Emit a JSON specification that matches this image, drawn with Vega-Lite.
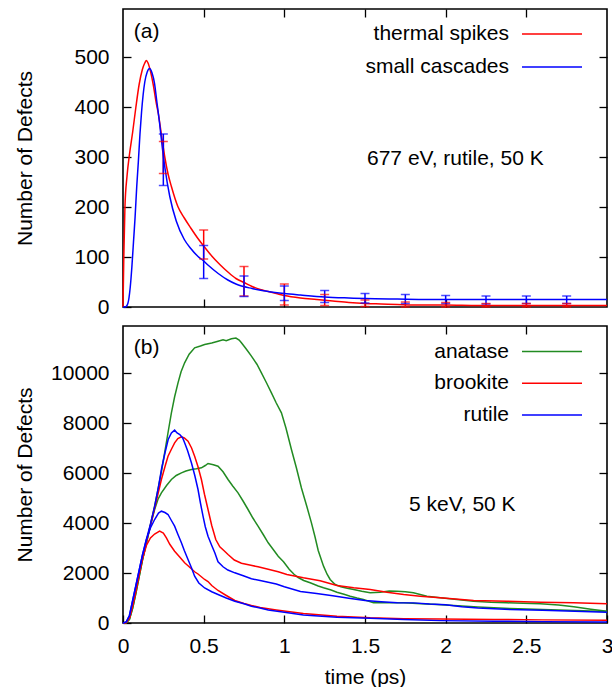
{
  "$schema": "https://vega.github.io/schema/vega-lite/v6.json",
  "autosize": {"type": "pad"},
  "padding": {"left": 13, "top": 7, "right": 0, "bottom": 0},
  "background": "white",
  "spacing": 6,
  "config": {
    "font": "Liberation Sans",
    "view": {"stroke": "black", "strokeWidth": 1.6},
    "axis": {"grid": false, "domain": false, "tickColor": "black", "tickSize": -8, "tickWidth": 1.3, "labelFont": "Liberation Sans", "labelFontSize": 21, "labelColor": "black", "titleFont": "Liberation Sans", "titleFontSize": 21, "titleFontWeight": "normal", "titleColor": "black", "labelFlush": false, "labelOverlap": false},
    "legend": {"labelFont": "Liberation Sans", "labelFontSize": 21, "labelColor": "black"},
    "text": {"font": "Liberation Sans", "fontSize": 21, "color": "black"}
  },
  "datasets": {
    "top": [
      {"series": "thermal spikes", "t": 0, "n": 0},
      {"series": "thermal spikes", "t": 0.005, "n": 100},
      {"series": "thermal spikes", "t": 0.012, "n": 200},
      {"series": "thermal spikes", "t": 0.025, "n": 262},
      {"series": "thermal spikes", "t": 0.04, "n": 305},
      {"series": "thermal spikes", "t": 0.06, "n": 350},
      {"series": "thermal spikes", "t": 0.08, "n": 400},
      {"series": "thermal spikes", "t": 0.1, "n": 445},
      {"series": "thermal spikes", "t": 0.12, "n": 475},
      {"series": "thermal spikes", "t": 0.135, "n": 488},
      {"series": "thermal spikes", "t": 0.145, "n": 493},
      {"series": "thermal spikes", "t": 0.155, "n": 488},
      {"series": "thermal spikes", "t": 0.17, "n": 472},
      {"series": "thermal spikes", "t": 0.19, "n": 440},
      {"series": "thermal spikes", "t": 0.205, "n": 410},
      {"series": "thermal spikes", "t": 0.22, "n": 385},
      {"series": "thermal spikes", "t": 0.24, "n": 340},
      {"series": "thermal spikes", "t": 0.26, "n": 298},
      {"series": "thermal spikes", "t": 0.28, "n": 265},
      {"series": "thermal spikes", "t": 0.3, "n": 241},
      {"series": "thermal spikes", "t": 0.34, "n": 201},
      {"series": "thermal spikes", "t": 0.38, "n": 178},
      {"series": "thermal spikes", "t": 0.42, "n": 158},
      {"series": "thermal spikes", "t": 0.46, "n": 139},
      {"series": "thermal spikes", "t": 0.5, "n": 122},
      {"series": "thermal spikes", "t": 0.55, "n": 102},
      {"series": "thermal spikes", "t": 0.6, "n": 85},
      {"series": "thermal spikes", "t": 0.65, "n": 70},
      {"series": "thermal spikes", "t": 0.7, "n": 57},
      {"series": "thermal spikes", "t": 0.75, "n": 49},
      {"series": "thermal spikes", "t": 0.8, "n": 41},
      {"series": "thermal spikes", "t": 0.85, "n": 35},
      {"series": "thermal spikes", "t": 0.9, "n": 31},
      {"series": "thermal spikes", "t": 0.95, "n": 27},
      {"series": "thermal spikes", "t": 1.0, "n": 23},
      {"series": "thermal spikes", "t": 1.1, "n": 18},
      {"series": "thermal spikes", "t": 1.2, "n": 15},
      {"series": "thermal spikes", "t": 1.3, "n": 12},
      {"series": "thermal spikes", "t": 1.4, "n": 9},
      {"series": "thermal spikes", "t": 1.5, "n": 7},
      {"series": "thermal spikes", "t": 1.6, "n": 6},
      {"series": "thermal spikes", "t": 1.7, "n": 5},
      {"series": "thermal spikes", "t": 1.8, "n": 4},
      {"series": "thermal spikes", "t": 2.0, "n": 4},
      {"series": "thermal spikes", "t": 2.2, "n": 3},
      {"series": "thermal spikes", "t": 2.5, "n": 3},
      {"series": "thermal spikes", "t": 2.8, "n": 3},
      {"series": "thermal spikes", "t": 3.0, "n": 3},
      {"series": "small cascades", "t": 0, "n": 0},
      {"series": "small cascades", "t": 0.015, "n": 0},
      {"series": "small cascades", "t": 0.03, "n": 7},
      {"series": "small cascades", "t": 0.045, "n": 40},
      {"series": "small cascades", "t": 0.055, "n": 80},
      {"series": "small cascades", "t": 0.065, "n": 130},
      {"series": "small cascades", "t": 0.075, "n": 180},
      {"series": "small cascades", "t": 0.085, "n": 240},
      {"series": "small cascades", "t": 0.095, "n": 290},
      {"series": "small cascades", "t": 0.105, "n": 345},
      {"series": "small cascades", "t": 0.115, "n": 390},
      {"series": "small cascades", "t": 0.125, "n": 425},
      {"series": "small cascades", "t": 0.135, "n": 450},
      {"series": "small cascades", "t": 0.15, "n": 470},
      {"series": "small cascades", "t": 0.165, "n": 477},
      {"series": "small cascades", "t": 0.18, "n": 468},
      {"series": "small cascades", "t": 0.195, "n": 448},
      {"series": "small cascades", "t": 0.21, "n": 410},
      {"series": "small cascades", "t": 0.227, "n": 367},
      {"series": "small cascades", "t": 0.245, "n": 315},
      {"series": "small cascades", "t": 0.26, "n": 278},
      {"series": "small cascades", "t": 0.29, "n": 221},
      {"series": "small cascades", "t": 0.33, "n": 172},
      {"series": "small cascades", "t": 0.38, "n": 135},
      {"series": "small cascades", "t": 0.42, "n": 117},
      {"series": "small cascades", "t": 0.465, "n": 101},
      {"series": "small cascades", "t": 0.5, "n": 92},
      {"series": "small cascades", "t": 0.53, "n": 83},
      {"series": "small cascades", "t": 0.59, "n": 67},
      {"series": "small cascades", "t": 0.65, "n": 54},
      {"series": "small cascades", "t": 0.7, "n": 46},
      {"series": "small cascades", "t": 0.8, "n": 37},
      {"series": "small cascades", "t": 0.9, "n": 31},
      {"series": "small cascades", "t": 1.0, "n": 27},
      {"series": "small cascades", "t": 1.1, "n": 24},
      {"series": "small cascades", "t": 1.25, "n": 20},
      {"series": "small cascades", "t": 1.4, "n": 18},
      {"series": "small cascades", "t": 1.5, "n": 17},
      {"series": "small cascades", "t": 1.7, "n": 16},
      {"series": "small cascades", "t": 2.0, "n": 15},
      {"series": "small cascades", "t": 2.5, "n": 15},
      {"series": "small cascades", "t": 3.0, "n": 15}
    ],
    "bars": [
      {"series": "thermal spikes", "t": 0.25, "lo": 267, "hi": 331},
      {"series": "thermal spikes", "t": 0.5, "lo": 96, "hi": 154},
      {"series": "thermal spikes", "t": 0.75, "lo": 22, "hi": 81},
      {"series": "thermal spikes", "t": 1.0, "lo": 4, "hi": 46},
      {"series": "thermal spikes", "t": 1.25, "lo": 3, "hi": 25},
      {"series": "thermal spikes", "t": 1.5, "lo": 1, "hi": 14},
      {"series": "thermal spikes", "t": 1.75, "lo": 0, "hi": 10},
      {"series": "thermal spikes", "t": 2.0, "lo": 0, "hi": 9},
      {"series": "thermal spikes", "t": 2.25, "lo": 0, "hi": 7},
      {"series": "thermal spikes", "t": 2.5, "lo": 0, "hi": 7},
      {"series": "thermal spikes", "t": 2.75, "lo": 0, "hi": 7},
      {"series": "small cascades", "t": 0.25, "lo": 243, "hi": 346},
      {"series": "small cascades", "t": 0.5, "lo": 57, "hi": 123},
      {"series": "small cascades", "t": 0.75, "lo": 21, "hi": 62},
      {"series": "small cascades", "t": 1.0, "lo": 13, "hi": 42},
      {"series": "small cascades", "t": 1.25, "lo": 9, "hi": 33},
      {"series": "small cascades", "t": 1.5, "lo": 8, "hi": 27},
      {"series": "small cascades", "t": 1.75, "lo": 7, "hi": 25},
      {"series": "small cascades", "t": 2.0, "lo": 7, "hi": 23},
      {"series": "small cascades", "t": 2.25, "lo": 6, "hi": 22},
      {"series": "small cascades", "t": 2.5, "lo": 7, "hi": 22},
      {"series": "small cascades", "t": 2.75, "lo": 7, "hi": 22}
    ],
    "bottom": [
      {"series": "anatase", "run": "a1", "t": 0, "n": 0},
      {"series": "anatase", "run": "a1", "t": 0.02, "n": 10},
      {"series": "anatase", "run": "a1", "t": 0.04, "n": 150},
      {"series": "anatase", "run": "a1", "t": 0.06, "n": 600},
      {"series": "anatase", "run": "a1", "t": 0.08, "n": 1200},
      {"series": "anatase", "run": "a1", "t": 0.1, "n": 1850},
      {"series": "anatase", "run": "a1", "t": 0.12, "n": 2500},
      {"series": "anatase", "run": "a1", "t": 0.145, "n": 3200},
      {"series": "anatase", "run": "a1", "t": 0.176, "n": 4100},
      {"series": "anatase", "run": "a1", "t": 0.2, "n": 4800},
      {"series": "anatase", "run": "a1", "t": 0.217, "n": 5340},
      {"series": "anatase", "run": "a1", "t": 0.238, "n": 6050},
      {"series": "anatase", "run": "a1", "t": 0.258, "n": 6807},
      {"series": "anatase", "run": "a1", "t": 0.28, "n": 7650},
      {"series": "anatase", "run": "a1", "t": 0.3, "n": 8407},
      {"series": "anatase", "run": "a1", "t": 0.32, "n": 9050},
      {"series": "anatase", "run": "a1", "t": 0.341, "n": 9607},
      {"series": "anatase", "run": "a1", "t": 0.36, "n": 10050},
      {"series": "anatase", "run": "a1", "t": 0.382, "n": 10407},
      {"series": "anatase", "run": "a1", "t": 0.41, "n": 10750},
      {"series": "anatase", "run": "a1", "t": 0.444, "n": 11007},
      {"series": "anatase", "run": "a1", "t": 0.48, "n": 11080},
      {"series": "anatase", "run": "a1", "t": 0.506, "n": 11140},
      {"series": "anatase", "run": "a1", "t": 0.55, "n": 11200},
      {"series": "anatase", "run": "a1", "t": 0.589, "n": 11273},
      {"series": "anatase", "run": "a1", "t": 0.62, "n": 11330},
      {"series": "anatase", "run": "a1", "t": 0.64, "n": 11290},
      {"series": "anatase", "run": "a1", "t": 0.672, "n": 11367},
      {"series": "anatase", "run": "a1", "t": 0.7, "n": 11400},
      {"series": "anatase", "run": "a1", "t": 0.72, "n": 11320},
      {"series": "anatase", "run": "a1", "t": 0.734, "n": 11207},
      {"series": "anatase", "run": "a1", "t": 0.765, "n": 10950},
      {"series": "anatase", "run": "a1", "t": 0.796, "n": 10673},
      {"series": "anatase", "run": "a1", "t": 0.83, "n": 10350},
      {"series": "anatase", "run": "a1", "t": 0.858, "n": 10007},
      {"series": "anatase", "run": "a1", "t": 0.89, "n": 9600},
      {"series": "anatase", "run": "a1", "t": 0.92, "n": 9207},
      {"series": "anatase", "run": "a1", "t": 0.95, "n": 8800},
      {"series": "anatase", "run": "a1", "t": 0.982, "n": 8407},
      {"series": "anatase", "run": "a1", "t": 1.01, "n": 7800},
      {"series": "anatase", "run": "a1", "t": 1.044, "n": 6940},
      {"series": "anatase", "run": "a1", "t": 1.075, "n": 6200},
      {"series": "anatase", "run": "a1", "t": 1.106, "n": 5400},
      {"series": "anatase", "run": "a1", "t": 1.14, "n": 4650},
      {"series": "anatase", "run": "a1", "t": 1.168, "n": 4007},
      {"series": "anatase", "run": "a1", "t": 1.19, "n": 3450},
      {"series": "anatase", "run": "a1", "t": 1.21, "n": 2900},
      {"series": "anatase", "run": "a1", "t": 1.243, "n": 2273},
      {"series": "anatase", "run": "a1", "t": 1.265, "n": 1950},
      {"series": "anatase", "run": "a1", "t": 1.284, "n": 1740},
      {"series": "anatase", "run": "a1", "t": 1.315, "n": 1540},
      {"series": "anatase", "run": "a1", "t": 1.35, "n": 1450},
      {"series": "anatase", "run": "a1", "t": 1.39, "n": 1390},
      {"series": "anatase", "run": "a1", "t": 1.43, "n": 1340},
      {"series": "anatase", "run": "a1", "t": 1.48, "n": 1270},
      {"series": "anatase", "run": "a1", "t": 1.532, "n": 1207},
      {"series": "anatase", "run": "a1", "t": 1.594, "n": 1233},
      {"series": "anatase", "run": "a1", "t": 1.65, "n": 1280},
      {"series": "anatase", "run": "a1", "t": 1.698, "n": 1273},
      {"series": "anatase", "run": "a1", "t": 1.75, "n": 1250},
      {"series": "anatase", "run": "a1", "t": 1.8, "n": 1207},
      {"series": "anatase", "run": "a1", "t": 1.884, "n": 1073},
      {"series": "anatase", "run": "a1", "t": 1.966, "n": 1007},
      {"series": "anatase", "run": "a1", "t": 2.07, "n": 940},
      {"series": "anatase", "run": "a1", "t": 2.173, "n": 873},
      {"series": "anatase", "run": "a1", "t": 2.28, "n": 830},
      {"series": "anatase", "run": "a1", "t": 2.38, "n": 807},
      {"series": "anatase", "run": "a1", "t": 2.48, "n": 790},
      {"series": "anatase", "run": "a1", "t": 2.587, "n": 767},
      {"series": "anatase", "run": "a1", "t": 2.7, "n": 720},
      {"series": "anatase", "run": "a1", "t": 2.794, "n": 647},
      {"series": "anatase", "run": "a1", "t": 2.9, "n": 550},
      {"series": "anatase", "run": "a1", "t": 3.0, "n": 473},
      {"series": "anatase", "run": "a2", "t": 0, "n": 0},
      {"series": "anatase", "run": "a2", "t": 0.02, "n": 10},
      {"series": "anatase", "run": "a2", "t": 0.04, "n": 150},
      {"series": "anatase", "run": "a2", "t": 0.06, "n": 600},
      {"series": "anatase", "run": "a2", "t": 0.08, "n": 1200},
      {"series": "anatase", "run": "a2", "t": 0.1, "n": 1850},
      {"series": "anatase", "run": "a2", "t": 0.12, "n": 2500},
      {"series": "anatase", "run": "a2", "t": 0.145, "n": 3200},
      {"series": "anatase", "run": "a2", "t": 0.17, "n": 3900},
      {"series": "anatase", "run": "a2", "t": 0.196, "n": 4540},
      {"series": "anatase", "run": "a2", "t": 0.217, "n": 4950},
      {"series": "anatase", "run": "a2", "t": 0.238, "n": 5207},
      {"series": "anatase", "run": "a2", "t": 0.27, "n": 5500},
      {"series": "anatase", "run": "a2", "t": 0.3, "n": 5740},
      {"series": "anatase", "run": "a2", "t": 0.33, "n": 5900},
      {"series": "anatase", "run": "a2", "t": 0.362, "n": 6007},
      {"series": "anatase", "run": "a2", "t": 0.39, "n": 6080},
      {"series": "anatase", "run": "a2", "t": 0.424, "n": 6140},
      {"series": "anatase", "run": "a2", "t": 0.455, "n": 6170},
      {"series": "anatase", "run": "a2", "t": 0.486, "n": 6207},
      {"series": "anatase", "run": "a2", "t": 0.51, "n": 6300},
      {"series": "anatase", "run": "a2", "t": 0.527, "n": 6380},
      {"series": "anatase", "run": "a2", "t": 0.56, "n": 6330},
      {"series": "anatase", "run": "a2", "t": 0.589, "n": 6273},
      {"series": "anatase", "run": "a2", "t": 0.62, "n": 6050},
      {"series": "anatase", "run": "a2", "t": 0.651, "n": 5740},
      {"series": "anatase", "run": "a2", "t": 0.68, "n": 5480},
      {"series": "anatase", "run": "a2", "t": 0.713, "n": 5207},
      {"series": "anatase", "run": "a2", "t": 0.745, "n": 4870},
      {"series": "anatase", "run": "a2", "t": 0.775, "n": 4540},
      {"series": "anatase", "run": "a2", "t": 0.805, "n": 4200},
      {"series": "anatase", "run": "a2", "t": 0.837, "n": 3873},
      {"series": "anatase", "run": "a2", "t": 0.87, "n": 3530},
      {"series": "anatase", "run": "a2", "t": 0.9, "n": 3207},
      {"series": "anatase", "run": "a2", "t": 0.93, "n": 2950},
      {"series": "anatase", "run": "a2", "t": 0.962, "n": 2673},
      {"series": "anatase", "run": "a2", "t": 0.995, "n": 2450},
      {"series": "anatase", "run": "a2", "t": 1.03, "n": 2150},
      {"series": "anatase", "run": "a2", "t": 1.06, "n": 1950},
      {"series": "anatase", "run": "a2", "t": 1.086, "n": 1820},
      {"series": "anatase", "run": "a2", "t": 1.12, "n": 1700},
      {"series": "anatase", "run": "a2", "t": 1.16, "n": 1607},
      {"series": "anatase", "run": "a2", "t": 1.21, "n": 1480},
      {"series": "anatase", "run": "a2", "t": 1.243, "n": 1407},
      {"series": "anatase", "run": "a2", "t": 1.29, "n": 1320},
      {"series": "anatase", "run": "a2", "t": 1.326, "n": 1233},
      {"series": "anatase", "run": "a2", "t": 1.37, "n": 1150},
      {"series": "anatase", "run": "a2", "t": 1.408, "n": 1073},
      {"series": "anatase", "run": "a2", "t": 1.45, "n": 1000},
      {"series": "anatase", "run": "a2", "t": 1.49, "n": 940},
      {"series": "anatase", "run": "a2", "t": 1.553, "n": 807},
      {"series": "anatase", "run": "a2", "t": 1.636, "n": 807},
      {"series": "anatase", "run": "a2", "t": 1.74, "n": 807},
      {"series": "anatase", "run": "a2", "t": 1.85, "n": 770},
      {"series": "anatase", "run": "a2", "t": 1.946, "n": 740},
      {"series": "anatase", "run": "a2", "t": 2.05, "n": 700},
      {"series": "anatase", "run": "a2", "t": 2.2, "n": 640},
      {"series": "anatase", "run": "a2", "t": 2.4, "n": 580},
      {"series": "anatase", "run": "a2", "t": 2.6, "n": 540},
      {"series": "anatase", "run": "a2", "t": 2.8, "n": 500},
      {"series": "anatase", "run": "a2", "t": 3.0, "n": 460},
      {"series": "brookite", "run": "b1", "t": 0, "n": 0},
      {"series": "brookite", "run": "b1", "t": 0.02, "n": 20},
      {"series": "brookite", "run": "b1", "t": 0.04, "n": 200},
      {"series": "brookite", "run": "b1", "t": 0.06, "n": 700},
      {"series": "brookite", "run": "b1", "t": 0.08, "n": 1300},
      {"series": "brookite", "run": "b1", "t": 0.1, "n": 1950},
      {"series": "brookite", "run": "b1", "t": 0.12, "n": 2600},
      {"series": "brookite", "run": "b1", "t": 0.145, "n": 3250},
      {"series": "brookite", "run": "b1", "t": 0.17, "n": 3900},
      {"series": "brookite", "run": "b1", "t": 0.196, "n": 4600},
      {"series": "brookite", "run": "b1", "t": 0.22, "n": 5250},
      {"series": "brookite", "run": "b1", "t": 0.238, "n": 5740},
      {"series": "brookite", "run": "b1", "t": 0.26, "n": 6250},
      {"series": "brookite", "run": "b1", "t": 0.279, "n": 6673},
      {"series": "brookite", "run": "b1", "t": 0.3, "n": 6950},
      {"series": "brookite", "run": "b1", "t": 0.32, "n": 7207},
      {"series": "brookite", "run": "b1", "t": 0.34, "n": 7380},
      {"series": "brookite", "run": "b1", "t": 0.362, "n": 7447},
      {"series": "brookite", "run": "b1", "t": 0.38, "n": 7400},
      {"series": "brookite", "run": "b1", "t": 0.403, "n": 7273},
      {"series": "brookite", "run": "b1", "t": 0.425, "n": 7000},
      {"series": "brookite", "run": "b1", "t": 0.444, "n": 6673},
      {"series": "brookite", "run": "b1", "t": 0.465, "n": 6250},
      {"series": "brookite", "run": "b1", "t": 0.486, "n": 5740},
      {"series": "brookite", "run": "b1", "t": 0.505, "n": 5150},
      {"series": "brookite", "run": "b1", "t": 0.527, "n": 4540},
      {"series": "brookite", "run": "b1", "t": 0.55, "n": 3900},
      {"series": "brookite", "run": "b1", "t": 0.575, "n": 3340},
      {"series": "brookite", "run": "b1", "t": 0.6, "n": 3050},
      {"series": "brookite", "run": "b1", "t": 0.625, "n": 2900},
      {"series": "brookite", "run": "b1", "t": 0.651, "n": 2740},
      {"series": "brookite", "run": "b1", "t": 0.69, "n": 2520},
      {"series": "brookite", "run": "b1", "t": 0.734, "n": 2390},
      {"series": "brookite", "run": "b1", "t": 0.8, "n": 2300},
      {"series": "brookite", "run": "b1", "t": 0.837, "n": 2247},
      {"series": "brookite", "run": "b1", "t": 0.9, "n": 2150},
      {"series": "brookite", "run": "b1", "t": 0.962, "n": 2047},
      {"series": "brookite", "run": "b1", "t": 1.016, "n": 1940},
      {"series": "brookite", "run": "b1", "t": 1.118, "n": 1807},
      {"series": "brookite", "run": "b1", "t": 1.222, "n": 1690},
      {"series": "brookite", "run": "b1", "t": 1.326, "n": 1500},
      {"series": "brookite", "run": "b1", "t": 1.43, "n": 1407},
      {"series": "brookite", "run": "b1", "t": 1.532, "n": 1340},
      {"series": "brookite", "run": "b1", "t": 1.636, "n": 1233},
      {"series": "brookite", "run": "b1", "t": 1.74, "n": 1140},
      {"series": "brookite", "run": "b1", "t": 1.842, "n": 1073},
      {"series": "brookite", "run": "b1", "t": 1.966, "n": 1007},
      {"series": "brookite", "run": "b1", "t": 2.173, "n": 900},
      {"series": "brookite", "run": "b1", "t": 2.38, "n": 873},
      {"series": "brookite", "run": "b1", "t": 2.587, "n": 833},
      {"series": "brookite", "run": "b1", "t": 2.794, "n": 807},
      {"series": "brookite", "run": "b1", "t": 3.0, "n": 767},
      {"series": "brookite", "run": "b2", "t": 0, "n": 0},
      {"series": "brookite", "run": "b2", "t": 0.02, "n": 20},
      {"series": "brookite", "run": "b2", "t": 0.04, "n": 200},
      {"series": "brookite", "run": "b2", "t": 0.06, "n": 700},
      {"series": "brookite", "run": "b2", "t": 0.08, "n": 1300},
      {"series": "brookite", "run": "b2", "t": 0.1, "n": 1950},
      {"series": "brookite", "run": "b2", "t": 0.12, "n": 2550},
      {"series": "brookite", "run": "b2", "t": 0.145, "n": 3100},
      {"series": "brookite", "run": "b2", "t": 0.17, "n": 3400},
      {"series": "brookite", "run": "b2", "t": 0.196, "n": 3560},
      {"series": "brookite", "run": "b2", "t": 0.227, "n": 3673},
      {"series": "brookite", "run": "b2", "t": 0.25, "n": 3600},
      {"series": "brookite", "run": "b2", "t": 0.269, "n": 3407},
      {"series": "brookite", "run": "b2", "t": 0.29, "n": 3150},
      {"series": "brookite", "run": "b2", "t": 0.32, "n": 2873},
      {"series": "brookite", "run": "b2", "t": 0.35, "n": 2650},
      {"series": "brookite", "run": "b2", "t": 0.382, "n": 2407},
      {"series": "brookite", "run": "b2", "t": 0.41, "n": 2250},
      {"series": "brookite", "run": "b2", "t": 0.444, "n": 2050},
      {"series": "brookite", "run": "b2", "t": 0.465, "n": 1960},
      {"series": "brookite", "run": "b2", "t": 0.506, "n": 1740},
      {"series": "brookite", "run": "b2", "t": 0.527, "n": 1660},
      {"series": "brookite", "run": "b2", "t": 0.55, "n": 1500},
      {"series": "brookite", "run": "b2", "t": 0.589, "n": 1300},
      {"series": "brookite", "run": "b2", "t": 0.64, "n": 1100},
      {"series": "brookite", "run": "b2", "t": 0.693, "n": 900},
      {"series": "brookite", "run": "b2", "t": 0.75, "n": 780},
      {"series": "brookite", "run": "b2", "t": 0.796, "n": 700},
      {"series": "brookite", "run": "b2", "t": 0.85, "n": 620},
      {"series": "brookite", "run": "b2", "t": 0.9, "n": 567},
      {"series": "brookite", "run": "b2", "t": 0.95, "n": 520},
      {"series": "brookite", "run": "b2", "t": 1.118, "n": 380},
      {"series": "brookite", "run": "b2", "t": 1.326, "n": 273},
      {"series": "brookite", "run": "b2", "t": 1.532, "n": 207},
      {"series": "brookite", "run": "b2", "t": 1.74, "n": 173},
      {"series": "brookite", "run": "b2", "t": 1.966, "n": 160},
      {"series": "brookite", "run": "b2", "t": 2.3, "n": 140},
      {"series": "brookite", "run": "b2", "t": 2.6, "n": 125},
      {"series": "brookite", "run": "b2", "t": 3.0, "n": 113},
      {"series": "rutile", "run": "r1", "t": 0, "n": 0},
      {"series": "rutile", "run": "r1", "t": 0.02, "n": 40},
      {"series": "rutile", "run": "r1", "t": 0.04, "n": 300},
      {"series": "rutile", "run": "r1", "t": 0.06, "n": 900},
      {"series": "rutile", "run": "r1", "t": 0.08, "n": 1500},
      {"series": "rutile", "run": "r1", "t": 0.1, "n": 2100},
      {"series": "rutile", "run": "r1", "t": 0.12, "n": 2700},
      {"series": "rutile", "run": "r1", "t": 0.145, "n": 3340},
      {"series": "rutile", "run": "r1", "t": 0.17, "n": 3950},
      {"series": "rutile", "run": "r1", "t": 0.196, "n": 4650},
      {"series": "rutile", "run": "r1", "t": 0.22, "n": 5450},
      {"series": "rutile", "run": "r1", "t": 0.24, "n": 6200},
      {"series": "rutile", "run": "r1", "t": 0.26, "n": 6800},
      {"series": "rutile", "run": "r1", "t": 0.28, "n": 7340},
      {"series": "rutile", "run": "r1", "t": 0.3, "n": 7600},
      {"series": "rutile", "run": "r1", "t": 0.32, "n": 7713},
      {"series": "rutile", "run": "r1", "t": 0.335, "n": 7600},
      {"series": "rutile", "run": "r1", "t": 0.352, "n": 7540},
      {"series": "rutile", "run": "r1", "t": 0.37, "n": 7400},
      {"series": "rutile", "run": "r1", "t": 0.382, "n": 7207},
      {"series": "rutile", "run": "r1", "t": 0.4, "n": 6900},
      {"series": "rutile", "run": "r1", "t": 0.424, "n": 6407},
      {"series": "rutile", "run": "r1", "t": 0.445, "n": 5900},
      {"series": "rutile", "run": "r1", "t": 0.465, "n": 5340},
      {"series": "rutile", "run": "r1", "t": 0.48, "n": 4800},
      {"series": "rutile", "run": "r1", "t": 0.496, "n": 4273},
      {"series": "rutile", "run": "r1", "t": 0.51, "n": 3850},
      {"series": "rutile", "run": "r1", "t": 0.527, "n": 3473},
      {"series": "rutile", "run": "r1", "t": 0.55, "n": 3100},
      {"series": "rutile", "run": "r1", "t": 0.569, "n": 2807},
      {"series": "rutile", "run": "r1", "t": 0.589, "n": 2450},
      {"series": "rutile", "run": "r1", "t": 0.62, "n": 2250},
      {"series": "rutile", "run": "r1", "t": 0.65, "n": 2120},
      {"series": "rutile", "run": "r1", "t": 0.693, "n": 2007},
      {"series": "rutile", "run": "r1", "t": 0.75, "n": 1880},
      {"series": "rutile", "run": "r1", "t": 0.796, "n": 1767},
      {"series": "rutile", "run": "r1", "t": 0.85, "n": 1700},
      {"series": "rutile", "run": "r1", "t": 0.9, "n": 1633},
      {"series": "rutile", "run": "r1", "t": 0.95, "n": 1560},
      {"series": "rutile", "run": "r1", "t": 1.0, "n": 1450},
      {"series": "rutile", "run": "r1", "t": 1.1, "n": 1260},
      {"series": "rutile", "run": "r1", "t": 1.2, "n": 1180},
      {"series": "rutile", "run": "r1", "t": 1.3, "n": 1090},
      {"series": "rutile", "run": "r1", "t": 1.4, "n": 990},
      {"series": "rutile", "run": "r1", "t": 1.5, "n": 900},
      {"series": "rutile", "run": "r1", "t": 1.6, "n": 850},
      {"series": "rutile", "run": "r1", "t": 1.7, "n": 810},
      {"series": "rutile", "run": "r1", "t": 1.8, "n": 805},
      {"series": "rutile", "run": "r1", "t": 1.9, "n": 760},
      {"series": "rutile", "run": "r1", "t": 2.0, "n": 730},
      {"series": "rutile", "run": "r1", "t": 2.1, "n": 650},
      {"series": "rutile", "run": "r1", "t": 2.2, "n": 600},
      {"series": "rutile", "run": "r1", "t": 2.4, "n": 540},
      {"series": "rutile", "run": "r1", "t": 2.6, "n": 510},
      {"series": "rutile", "run": "r1", "t": 2.8, "n": 470},
      {"series": "rutile", "run": "r1", "t": 3.0, "n": 433},
      {"series": "rutile", "run": "r2", "t": 0, "n": 0},
      {"series": "rutile", "run": "r2", "t": 0.02, "n": 40},
      {"series": "rutile", "run": "r2", "t": 0.04, "n": 300},
      {"series": "rutile", "run": "r2", "t": 0.06, "n": 900},
      {"series": "rutile", "run": "r2", "t": 0.08, "n": 1500},
      {"series": "rutile", "run": "r2", "t": 0.1, "n": 2100},
      {"series": "rutile", "run": "r2", "t": 0.12, "n": 2700},
      {"series": "rutile", "run": "r2", "t": 0.145, "n": 3340},
      {"series": "rutile", "run": "r2", "t": 0.17, "n": 3800},
      {"series": "rutile", "run": "r2", "t": 0.196, "n": 4140},
      {"series": "rutile", "run": "r2", "t": 0.22, "n": 4400},
      {"series": "rutile", "run": "r2", "t": 0.238, "n": 4473},
      {"series": "rutile", "run": "r2", "t": 0.26, "n": 4420},
      {"series": "rutile", "run": "r2", "t": 0.279, "n": 4340},
      {"series": "rutile", "run": "r2", "t": 0.3, "n": 4100},
      {"series": "rutile", "run": "r2", "t": 0.32, "n": 3873},
      {"series": "rutile", "run": "r2", "t": 0.34, "n": 3550},
      {"series": "rutile", "run": "r2", "t": 0.362, "n": 3207},
      {"series": "rutile", "run": "r2", "t": 0.38, "n": 2900},
      {"series": "rutile", "run": "r2", "t": 0.403, "n": 2540},
      {"series": "rutile", "run": "r2", "t": 0.425, "n": 2200},
      {"series": "rutile", "run": "r2", "t": 0.444, "n": 1873},
      {"series": "rutile", "run": "r2", "t": 0.47, "n": 1600},
      {"series": "rutile", "run": "r2", "t": 0.506, "n": 1400},
      {"series": "rutile", "run": "r2", "t": 0.55, "n": 1250},
      {"series": "rutile", "run": "r2", "t": 0.589, "n": 1140},
      {"series": "rutile", "run": "r2", "t": 0.64, "n": 1000},
      {"series": "rutile", "run": "r2", "t": 0.693, "n": 873},
      {"series": "rutile", "run": "r2", "t": 0.75, "n": 770},
      {"series": "rutile", "run": "r2", "t": 0.796, "n": 673},
      {"series": "rutile", "run": "r2", "t": 0.85, "n": 600},
      {"series": "rutile", "run": "r2", "t": 0.9, "n": 520},
      {"series": "rutile", "run": "r2", "t": 1.0, "n": 430},
      {"series": "rutile", "run": "r2", "t": 1.118, "n": 320},
      {"series": "rutile", "run": "r2", "t": 1.326, "n": 233},
      {"series": "rutile", "run": "r2", "t": 1.532, "n": 190},
      {"series": "rutile", "run": "r2", "t": 1.74, "n": 140},
      {"series": "rutile", "run": "r2", "t": 1.966, "n": 95},
      {"series": "rutile", "run": "r2", "t": 2.3, "n": 70},
      {"series": "rutile", "run": "r2", "t": 2.6, "n": 55},
      {"series": "rutile", "run": "r2", "t": 3.0, "n": 45}
    ],
    "notesTop": [
      {"t": 0.146, "n": 550, "label": "(a)"},
      {"t": 2.06, "n": 296, "label": "677 eV, rutile, 50 K"}
    ],
    "notesBottom": [
      {"t": 0.146, "n": 11020, "label": "(b)"},
      {"t": 2.103, "n": 4740, "label": "5 keV, 50 K"}
    ]
  },
  "resolve": {"scale": {"color": "independent"}, "legend": {"color": "independent"}},
  "vconcat": [
    {
      "width": 484,
      "height": 298,
      "resolve": {"axis": {"x": "independent", "y": "independent"}},
      "layer": [
        {
          "data": {"name": "top"},
          "mark": {"type": "line", "strokeWidth": 1.5, "interpolate": "monotone"},
          "encoding": {
            "x": {"field": "t", "type": "quantitative", "scale": {"domain": [0, 3], "nice": false, "zero": false},
                  "axis": {"orient": "bottom", "values": [0.5, 1, 1.5, 2, 2.5], "labels": false, "title": null}},
            "y": {"field": "n", "type": "quantitative", "scale": {"domain": [0, 596], "nice": false},
                  "axis": {"orient": "left", "values": [0, 100, 200, 300, 400, 500], "format": "d", "labelPadding": 22, "title": "Number of Defects", "titleX": -92, "titleY": 149, "titleBaseline": "alphabetic", "titleAngle": 270}},
            "color": {"field": "series", "type": "nominal",
                      "scale": {"domain": ["thermal spikes", "small cascades"], "range": ["#ff0000", "#0000ff"]},
                      "legend": {"title": null, "orient": "none", "legendX": 418, "legendY": 14, "symbolType": "M-3,0H3", "symbolSize": 400, "symbolStrokeWidth": 1.5, "labelAlign": "right", "labelOffset": -54, "rowPadding": 12, "padding": 0}}
          }
        },
        {
          "data": {"name": "bars"},
          "mark": {"type": "rule", "strokeWidth": 1.5},
          "encoding": {
            "x": {"field": "t", "type": "quantitative", "axis": null},
            "y": {"field": "lo", "type": "quantitative", "axis": null},
            "y2": {"field": "hi"},
            "color": {"field": "series", "type": "nominal", "legend": null}
          }
        },
        {
          "data": {"name": "bars"},
          "mark": {"type": "tick", "orient": "horizontal", "size": 9, "thickness": 1.5},
          "encoding": {
            "x": {"field": "t", "type": "quantitative", "axis": null},
            "y": {"field": "lo", "type": "quantitative", "axis": null},
            "color": {"field": "series", "type": "nominal", "legend": null}
          }
        },
        {
          "data": {"name": "bars"},
          "mark": {"type": "tick", "orient": "horizontal", "size": 9, "thickness": 1.5},
          "encoding": {
            "x": {"field": "t", "type": "quantitative", "axis": null},
            "y": {"field": "hi", "type": "quantitative", "axis": null},
            "color": {"field": "series", "type": "nominal", "legend": null}
          }
        },
        {
          "data": {"name": "notesTop"},
          "mark": {"type": "text", "baseline": "middle", "align": "center"},
          "encoding": {
            "x": {"field": "t", "type": "quantitative",
                  "axis": {"orient": "top", "values": [0.5, 1, 1.5, 2, 2.5], "labels": false, "title": null}},
            "y": {"field": "n", "type": "quantitative",
                  "axis": {"orient": "right", "values": [100, 200, 300, 400, 500], "labels": false, "title": null}},
            "text": {"field": "label"}
          }
        }
      ]
    },
    {
      "width": 484,
      "height": 297,
      "resolve": {"axis": {"x": "independent", "y": "independent"}},
      "layer": [
        {
          "data": {"name": "bottom"},
          "mark": {"type": "line", "strokeWidth": 1.5},
          "encoding": {
            "x": {"field": "t", "type": "quantitative", "scale": {"domain": [0, 3], "nice": false, "zero": false},
                  "axis": {"orient": "bottom", "values": [0, 0.5, 1, 1.5, 2, 2.5, 3], "format": "~g", "labelPadding": 20, "title": "time (ps)", "titleX": 242, "titleY": 60, "titleBaseline": "alphabetic"}},
            "y": {"field": "n", "type": "quantitative", "scale": {"domain": [0, 11880], "nice": false},
                  "axis": {"orient": "left", "values": [0, 2000, 4000, 6000, 8000, 10000], "format": "d", "labelPadding": 22, "title": "Number of Defects", "titleX": -92, "titleY": 148.5, "titleBaseline": "alphabetic", "titleAngle": 270}},
            "detail": {"field": "run", "type": "nominal"},
            "color": {"field": "series", "type": "nominal",
                      "scale": {"domain": ["anatase", "brookite", "rutile"], "range": ["#228b22", "#ff0000", "#0000ff"]},
                      "legend": {"title": null, "orient": "none", "legendX": 418, "legendY": 14.5, "symbolType": "M-3,0H3", "symbolSize": 400, "symbolStrokeWidth": 1.5, "labelAlign": "right", "labelOffset": -54, "rowPadding": 10.7, "padding": 0}}
          }
        },
        {
          "data": {"name": "notesBottom"},
          "mark": {"type": "text", "baseline": "middle", "align": "center"},
          "encoding": {
            "x": {"field": "t", "type": "quantitative",
                  "axis": {"orient": "top", "values": [0.5, 1, 1.5, 2, 2.5], "labels": false, "title": null}},
            "y": {"field": "n", "type": "quantitative",
                  "axis": {"orient": "right", "values": [2000, 4000, 6000, 8000, 10000], "labels": false, "title": null}},
            "text": {"field": "label"}
          }
        }
      ]
    }
  ]
}
